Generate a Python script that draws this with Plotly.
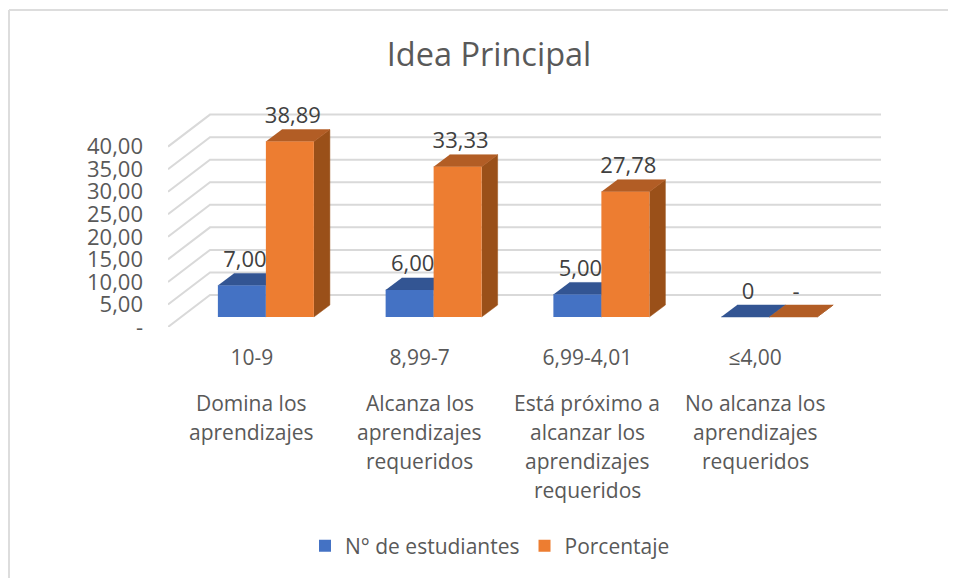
import plotly.graph_objects as go

# ---- data ----
categories = [0, 1, 2, 3]
ranges = ["10-9", "8,99-7", "6,99-4,01", "≤4,00"]
descriptions = [
    ["Domina los", "aprendizajes"],
    ["Alcanza los", "aprendizajes", "requeridos"],
    ["Está próximo a", "alcanzar los", "aprendizajes", "requeridos"],
    ["No alcanza los", "aprendizajes", "requeridos"],
]
estudiantes = [7.00, 6.00, 5.00, 0]
porcentaje = [38.89, 33.33, 27.78, 0]
labels_est = ["7,00", "6,00", "5,00", "0"]
labels_por = ["38,89", "33,33", "27,78", "-"]
y_ticks = [0, 5, 10, 15, 20, 25, 30, 35, 40]
y_ticktext = ["-", "5,00", "10,00", "15,00", "20,00", "25,00", "30,00", "35,00", "40,00"]

# ---- geometry of the fake 3D projection ----
PAGE = 8                            # default page margin of the browser
W, H = 956, 578 - PAGE
L, R, T, B = 168, 881, 90, 327      # plot area in window pixels
PX_X = 167.75                       # px per category
PX_Y = 4.51                         # px per value unit
FONT = "Open Sans"
GREY = "#595959"
DARK = "#404040"
GRID = "#D9D9D9"

wall_dx, wall_dy = 42 / PX_X, 32 / PX_Y
bar_w = 48 / PX_X
bar_off_x, base = 14 / PX_X, 10 / PX_Y
depth_x, depth_y = 16 / PX_X, 12 / PX_Y
label_dy = 24 / PX_Y


def pxx(p):
    return (p - L) / (R - L)


def pxy(p):
    return (B - p) / (B - T)


x_min = -0.5
x_wall_end = x_min + (R - L) / PX_X

fig = go.Figure()

# walls: diagonal plus back gridline for every tick
for t in y_ticks:
    fig.add_trace(go.Scatter(
        x=[x_min, x_min + wall_dx, x_wall_end], y=[t, t + wall_dy, t + wall_dy],
        mode="lines", line=dict(color=GRID, width=2), hoverinfo="skip",
        showlegend=False, cliponaxis=False, zorder=0))


def poly(xs, ys, color, z):
    fig.add_trace(go.Scatter(
        x=xs, y=ys, mode="lines", fill="toself", fillcolor=color,
        line=dict(color=color, width=0.5), hoverinfo="skip",
        showlegend=False, cliponaxis=False, zorder=z))


series = [
    ("N° de estudiantes", estudiantes, -bar_w / 2, "#4472C4", "#335593", "#2B4A80", 1),
    ("Porcentaje", porcentaje, bar_w / 2, "#ED7D31", "#B25D25", "#9A5019", 4),
]
for name, vals, off, col, top_col, side_col, z in series:
    xs = [c + bar_off_x + off for c in categories]
    for xc, v in zip(xs, vals):
        x0, x1 = xc - bar_w / 2, xc + bar_w / 2
        y1 = base + v
        poly([x1, x1 + depth_x, x1 + depth_x, x1], [base, base + depth_y, y1 + depth_y, y1], side_col, z)
        poly([x0, x1, x1 + depth_x, x0 + depth_x], [y1, y1, y1 + depth_y, y1 + depth_y], top_col, z)
    fig.add_trace(go.Bar(
        x=xs, y=vals, base=base, width=bar_w, name=name,
        marker=dict(color=col, line=dict(width=0)), zorder=z + 1,
        hoverinfo="skip"))

for vals, labs, off, dxp in [(estudiantes, labels_est, -bar_w / 2, 3), (porcentaje, labels_por, bar_w / 2, 3)]:
    fig.add_trace(go.Scatter(
        x=[c + bar_off_x + off + dxp / PX_X for c in categories],
        y=[base + v + label_dy for v in vals],
        text=labs, mode="text", textposition="middle center",
        textfont=dict(family=FONT, size=22, color=DARK),
        showlegend=False, hoverinfo="skip", cliponaxis=False, zorder=8))

annotations = []
for c, lines in zip(categories, descriptions):
    for i, line in enumerate(lines):
        annotations.append(dict(
            x=c, xref="x", y=pxy(403 + 29 * i), yref="paper", text=line,
            showarrow=False, xanchor="center", yanchor="middle",
            font=dict(family=FONT, size=21, color=GREY)))

shapes = [
    dict(type="line", xref="paper", yref="paper", x0=pxx(9), x1=pxx(964), y0=pxy(10), y1=pxy(10),
         line=dict(color="#DDDDDD", width=2)),
    dict(type="line", xref="paper", yref="paper", x0=pxx(9), x1=pxx(9), y0=pxy(10), y1=pxy(578),
         line=dict(color="#DDDDDD", width=2)),
]

fig.update_layout(
    width=W, height=H, template="none",
    margin=dict(l=L - PAGE, r=W - (R - PAGE), t=T - PAGE, b=H - (B - PAGE), pad=0, autoexpand=False),
    paper_bgcolor="white", plot_bgcolor="white",
    barmode="overlay",
    title=dict(text="Idea Principal", x=(489 - PAGE) / W, xref="container", xanchor="center",
               y=1 - (55 - PAGE) / H, yref="container", yanchor="middle",
               font=dict(family=FONT, size=32.5, color=GREY)),
    xaxis=dict(range=[x_min, x_wall_end], tickmode="array", tickvals=categories, ticktext=ranges,
               showgrid=False, zeroline=False, showline=False, ticks="",
               ticklabelstandoff=16, tickfont=dict(family=FONT, size=21, color=GREY)),
    yaxis=dict(range=[0, (B - T) / PX_Y], tickmode="array", tickvals=y_ticks, ticktext=y_ticktext,
               showgrid=False, zeroline=False, showline=False, ticks="",
               ticklabelstandoff=24, tickfont=dict(family=FONT, size=22, color=GREY)),
    legend=dict(orientation="h", x=pxx(490), xanchor="center", y=pxy(546), yanchor="middle",
                font=dict(family=FONT, size=21, color=GREY), bgcolor="rgba(0,0,0,0)"),
    annotations=annotations, shapes=shapes,
)

fig.write_html("out.html")
